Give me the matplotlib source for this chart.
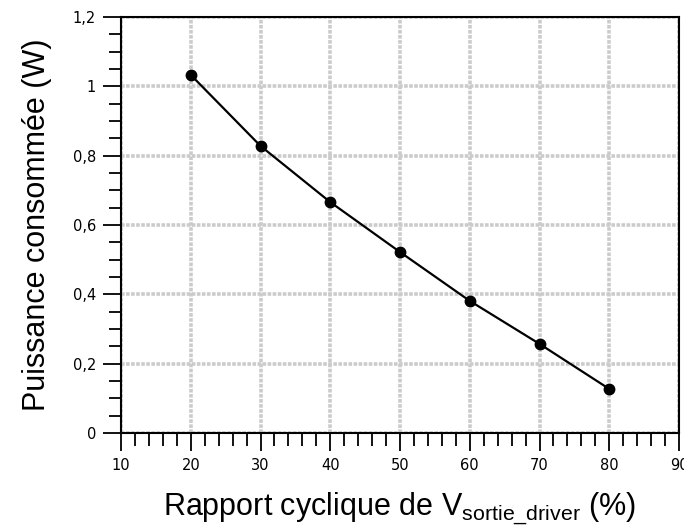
import matplotlib
matplotlib.use("Agg")
import matplotlib.pyplot as plt
from matplotlib.ticker import MultipleLocator, FuncFormatter

# data
rapport = [20, 30, 40, 50, 60, 70, 80]
puissance = [1.033, 0.828, 0.666, 0.522, 0.381, 0.257, 0.127]

plt.rcParams['mathtext.default'] = 'regular'

fig = plt.figure(figsize=(6.84, 5.31), dpi=100)
ax = fig.add_axes([0.1769, 0.1846, 0.8158, 0.7834])

ax.plot(rapport, puissance, color='black', lw=1.6, marker='o', markersize=7.5, zorder=3)

ax.set_xlim(10, 90)
ax.set_ylim(0, 1.2)
ax.xaxis.set_major_locator(MultipleLocator(10))
ax.xaxis.set_minor_locator(MultipleLocator(2))
ax.yaxis.set_major_locator(MultipleLocator(0.2))
ax.yaxis.set_minor_locator(MultipleLocator(0.05))
ax.yaxis.set_major_formatter(FuncFormatter(lambda v, p: ('%g' % round(v, 2)).replace('.', ',')))

# light grey dotted grid
ax.grid(True, which='major', color='#cbcbcb', linestyle=(0, (1, 0.4)), lw=2.6, zorder=0)

ax.tick_params(which='major', direction='out', length=13, width=1.3, labelsize=10.5, colors='black', pad=5)
ax.tick_params(which='minor', direction='out', length=9, width=1.3)
for s in ax.spines.values():
    s.set_linewidth(1.5)

for lab in ax.get_xticklabels() + ax.get_yticklabels():
    lab.set_family('DejaVu Sans')

ax.set_xlabel(r'Rapport cyclique de V$_{sortie\_driver}$ (%)', fontsize=22,
              family='Liberation Sans', labelpad=13)
ax.set_ylabel('Puissance consommée (W)', fontsize=22, family='Liberation Sans', labelpad=15)

fig.savefig('out.png', dpi=100)
